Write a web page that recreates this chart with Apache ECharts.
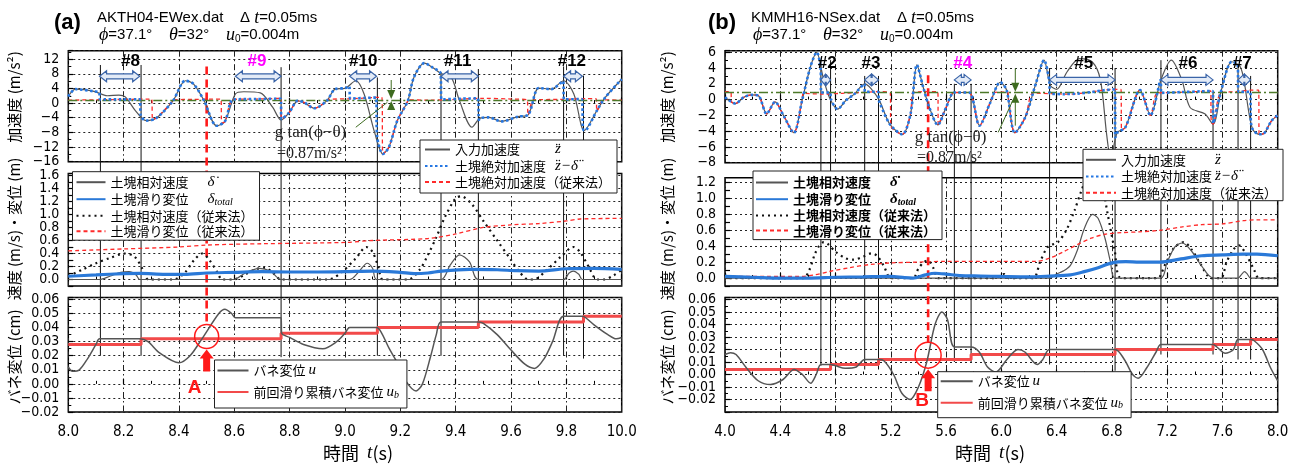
<!DOCTYPE html>
<html lang="ja">
<head>
<meta charset="utf-8"/>
<title>滑動時刻歴</title>
<script src="https://cdn.jsdelivr.net/npm/echarts@6/dist/echarts.min.js"></script>
<style>
  html, body { margin: 0; padding: 0; background: #fff; }
  #wrap { position: relative; width: 1303px; height: 465px; }
  #chartA { position: absolute; left: 0; top: 0; width: 651px; height: 465px; }
  #chartB { position: absolute; left: 651px; top: 0; width: 652px; height: 465px; }
</style>
</head>
<body>
<div id="wrap"><div id="chartA"></div><div id="chartB"></div></div>
<script>
// ---- (a) AKTH04-EWex.dat  8-10 s ----
const accInA = [[8.000,1.8],[8.026,3.8],[8.093,3.2],[8.141,2.0],[8.183,2.2],[8.206,1.7],[8.243,-2.1],[8.281,-4.8],[8.318,-4.1],[8.378,0.6],[8.423,6.1],[8.453,5.2],[8.491,0.6],[8.536,-6.2],[8.566,-5.0],[8.604,2.5],[8.634,3.1],[8.694,2.8],[8.739,-1.2],[8.769,-4.6],[8.799,-2.5],[8.829,0.6],[8.851,0.2],[8.889,-1.4],[8.934,0.6],[8.964,3.8],[9.002,4.1],[9.039,6.1],[9.069,2.5],[9.107,-8.0],[9.137,-13.9],[9.159,-12.0],[9.189,-4.8],[9.227,0.6],[9.249,7.0],[9.287,10.9],[9.317,9.7],[9.347,8.1],[9.384,7.0],[9.414,0.6],[9.459,-6.6],[9.489,-4.1],[9.520,-3.9],[9.565,-5.0],[9.625,-3.7],[9.662,-3.2],[9.700,4.1],[9.745,3.8],[9.790,6.1],[9.827,2.5],[9.865,-7.5],[9.910,-2.1],[9.940,1.5],[10.000,6.5]];
// sliding windows where the block acceleration stays near g tan(phi-theta)
const accNewWinA = [
  [[8.111,2.9],[8.115,1.0],[8.19,1.0],[8.258,1.0],[8.262,-3.4]],
  [[8.597,1.0],[8.68,1.1],[8.767,1.2],[8.771,-4.4]],
  [[9.015,4.6],[9.019,1.2],[9.07,1.4],[9.112,1.5],[9.116,-9.0]],
  [[9.345,8.2],[9.349,1.0],[9.42,1.2],[9.480,1.3],[9.484,-4.6]],
  [[9.788,6.0],[9.792,1.0],[9.856,1.1],[9.860,-7.0]]
];
const accOldWinA = [
  [[8.000,0.8],[8.10,0.9],[8.20,1.0],[8.301,1.1],[8.305,-4.4]],
  [[8.380,0.9],[8.45,1.0],[8.551,1.1],[8.555,-5.4]],
  [[8.597,1.0],[8.68,1.1],[8.767,1.3],[8.771,-4.4]],
  [[8.940,1.0],[9.03,1.2],[9.10,1.5],[9.133,1.6],[9.137,-13.9]],
  [[9.229,0.9],[9.30,0.8],[9.40,1.0],[9.50,1.3],[9.60,1.1],[9.658,0.9],[9.662,-3.2]],
  [[9.683,0.9],[9.78,1.0],[9.87,1.2],[9.907,1.2],[9.911,-2.1]],
  [[9.934,0.9],[10.0,0.8]]
];
const velNewA = [[8.0,0],[8.113,0],[8.15,0.05],[8.19,0.11],[8.22,0.12],[8.245,0.07],[8.258,0],[8.597,0],[8.64,0.1],[8.69,0.17],[8.73,0.13],[8.769,0],[9.017,0],[9.05,0.12],[9.08,0.25],[9.10,0.17],[9.114,0],[9.347,0],[9.38,0.22],[9.414,0.38],[9.45,0.27],[9.482,0],[9.790,0],[9.81,0.1],[9.825,0.13],[9.845,0.08],[9.858,0],[10.0,0]];
const velOldA = [[8.0,0.05],[8.05,0.15],[8.10,0.25],[8.15,0.33],[8.206,0.40],[8.24,0.35],[8.27,0.15],[8.29,0],[8.38,0],[8.42,0.1],[8.455,0.3],[8.484,0.40],[8.51,0.3],[8.54,0.1],[8.556,0],[8.597,0],[8.64,0.08],[8.68,0.16],[8.71,0.18],[8.74,0.1],[8.769,0],[8.94,0],[8.99,0.12],[9.04,0.33],[9.077,0.5],[9.10,0.42],[9.12,0.2],[9.137,0],[9.229,0],[9.27,0.15],[9.30,0.38],[9.33,0.65],[9.36,0.95],[9.40,1.25],[9.42,1.28],[9.46,1.15],[9.50,0.9],[9.55,0.6],[9.60,0.3],[9.63,0.12],[9.662,0],[9.683,0],[9.73,0.15],[9.78,0.35],[9.825,0.5],[9.85,0.42],[9.88,0.2],[9.911,0],[9.934,0],[9.97,0.06],[10.0,0.15]];
const slipNewA = [[8.0,0.05],[8.1,0.07],[8.2,0.09],[8.26,0.095],[8.35,0.08],[8.42,0.08],[8.5,0.1],[8.6,0.11],[8.7,0.12],[8.8,0.115],[8.9,0.115],[9.0,0.12],[9.1,0.13],[9.2,0.11],[9.25,0.09],[9.3,0.1],[9.35,0.13],[9.45,0.155],[9.55,0.15],[9.62,0.135],[9.7,0.13],[9.8,0.165],[9.9,0.17],[10.0,0.155]];
const slipOldA = [[8.0,0.44],[8.2,0.47],[8.4,0.5],[8.5,0.53],[8.7,0.55],[9.0,0.57],[9.1,0.6],[9.3,0.63],[9.4,0.7],[9.5,0.8],[9.6,0.84],[9.7,0.86],[9.8,0.9],[9.85,0.93],[10.0,0.94]];
const springA = [[8.0,0.012],[8.015,0.009],[8.04,0.01],[8.07,0.018],[8.10,0.028],[8.113,0.032],[8.258,0.032],[8.288,0.03],[8.33,0.022],[8.40,0.015],[8.44,0.02],[8.483,0.032],[8.544,0.05],[8.566,0.053],[8.59,0.05],[8.604,0.047],[8.769,0.047],[8.771,0.036],[8.80,0.033],[8.85,0.028],[8.92,0.025],[8.97,0.03],[9.0,0.036],[9.017,0.04],[9.114,0.04],[9.13,0.037],[9.16,0.025],[9.189,0.015],[9.22,0.002],[9.257,-0.005],[9.28,0.0],[9.31,0.02],[9.33,0.035],[9.347,0.044],[9.482,0.044],[9.50,0.043],[9.55,0.035],[9.60,0.024],[9.65,0.014],[9.685,0.011],[9.72,0.018],[9.75,0.03],[9.79,0.048],[9.858,0.048],[9.87,0.047],[9.90,0.042],[9.95,0.035],[9.98,0.032],[10.0,0.033]];
const ubA = [[8.0,0.028],[8.263,0.032],[8.769,0.036],[9.117,0.040],[9.482,0.044],[9.862,0.048],[10.0,0.048]];
const slideLinesA = [8.116, 8.263, 8.769, 9.117, 9.347, 9.482, 9.790, 9.862];
const slideTopA = [10.4, 10.4, 9.8, 7, 8.5, 9.3, 10, 7.5];
const slideBotA = [0.02, 0.02, 0.019, 0.02, 0.02, 0.04, 0.02, 0.018];
const slideSpanA = [[8.113,8.258],[8.604,8.769],[9.017,9.114],[9.347,9.482],[9.790,9.858]];
const slideTagsA = ['#8', '#9', '#10', '#11', '#12'];
const slideTagTA = [8.225, 8.682, 9.066, 9.407, 9.820];

// ---- (b) KMMH16-NSex.dat  4-8 s ----
const accInB = [[4.000,0.3],[4.075,-0.5],[4.136,0.3],[4.196,0.6],[4.242,0.5],[4.302,-1.8],[4.362,-0.3],[4.423,-2.0],[4.498,-4.2],[4.558,-0.1],[4.619,4.2],[4.664,6.0],[4.709,2.9],[4.755,0.3],[4.815,-1.2],[4.875,-0.1],[4.936,0.7],[5.011,2.0],[5.057,1.4],[5.117,-0.1],[5.192,-3.1],[5.283,-4.4],[5.343,-1.8],[5.389,4.4],[5.434,1.6],[5.479,-1.0],[5.540,-3.2],[5.600,-1.0],[5.660,0.9],[5.766,0.9],[5.842,-3.3],[5.917,-0.5],[5.992,2.2],[6.038,1.2],[6.098,-4.2],[6.174,-2.2],[6.249,2.0],[6.309,5.0],[6.355,1.8],[6.400,1.3],[6.475,3.5],[6.566,5.2],[6.657,4.8],[6.717,2.5],[6.762,-4.4],[6.792,-7.5],[6.838,-4.2],[6.898,-3.5],[7.004,1.2],[7.079,-2.0],[7.155,2.5],[7.230,5.0],[7.306,2.5],[7.366,-1.0],[7.472,-1.8],[7.532,-3.1],[7.592,1.2],[7.668,4.8],[7.728,4.2],[7.760,2.0],[7.790,-1.5],[7.820,-3.8],[7.865,-4.4],[7.900,-4.3],[7.955,-2.7],[8.000,-2.0]];
const accNewWinB = [
  [[4.692,3.9],[4.696,0.9],[4.762,0.9],[4.766,0.1]],
  [[5.009,2.0],[5.013,1.0],[5.109,1.0],[5.113,-0.1]],
  [[6.347,2.3],[6.351,0.75],[6.45,0.7],[6.55,0.75],[6.65,0.95],[6.75,1.2],[6.821,1.3],[6.825,-4.8]],
  [[7.153,2.5],[7.157,0.85],[7.30,0.95],[7.45,1.05],[7.530,1.1],[7.534,-3.0]],
  [[7.711,4.4],[7.715,1.0],[7.802,1.0],[7.806,-2.8]]
];
const accOldWinB = [
  [[4.000,1.0],[4.043,0.95],[4.047,-0.3]],
  [[4.567,0.8],[4.70,0.7],[4.85,0.8],[5.00,0.9],[5.10,1.0],[5.196,0.9],[5.200,-3.3]],
  [[5.360,0.9],[5.45,1.0],[5.540,1.0],[5.544,-3.2]],
  [[5.955,0.9],[6.0,0.95],[6.048,0.95],[6.052,0.0]],
  [[6.230,0.85],[6.35,0.75],[6.50,0.7],[6.60,0.85],[6.70,1.1],[6.80,1.3],[6.866,1.3],[6.870,-3.9]],
  [[7.130,0.85],[7.25,0.9],[7.40,1.0],[7.515,1.1],[7.519,-2.8]],
  [[7.589,0.85],[7.70,1.0],[7.80,1.2],[7.862,1.2],[7.866,-4.4]]
];
const velNewB = [[4.0,0],[6.349,0],[6.40,0.05],[6.45,0.09],[6.50,0.16],[6.55,0.35],[6.60,0.62],[6.66,0.8],[6.70,0.75],[6.75,0.5],[6.79,0.2],[6.823,0],[7.155,0],[7.20,0.2],[7.26,0.4],[7.31,0.44],[7.38,0.33],[7.45,0.15],[7.532,0],[7.713,0],[7.74,0.05],[7.76,0.08],[7.78,0.05],[7.804,0],[8.0,0]];
const velOldB = [[4.0,0.04],[4.03,0],[4.567,0],[4.61,0.1],[4.65,0.3],[4.68,0.4],[4.715,0.45],[4.75,0.42],[4.80,0.33],[4.87,0.25],[4.93,0.23],[5.0,0.27],[5.06,0.31],[5.10,0.28],[5.15,0.15],[5.20,0],[5.36,0],[5.40,0.12],[5.44,0.2],[5.47,0.22],[5.51,0.12],[5.544,0],[5.955,0],[5.99,0.03],[6.02,0.05],[6.052,0],[6.23,0],[6.28,0.2],[6.33,0.38],[6.37,0.42],[6.41,0.45],[6.47,0.6],[6.53,0.85],[6.58,1.1],[6.63,1.3],[6.68,1.35],[6.73,1.15],[6.77,0.8],[6.82,0.35],[6.868,0],[7.13,0],[7.18,0.15],[7.25,0.38],[7.32,0.45],[7.38,0.35],[7.44,0.18],[7.517,0],[7.589,0],[7.63,0.2],[7.68,0.36],[7.72,0.41],[7.77,0.3],[7.83,0.1],[7.864,0],[8.0,0]];
const slipNewB = [[4.0,0.02],[4.2,0.01],[4.4,0.0],[4.6,0.0],[4.8,0.01],[5.0,0.015],[5.2,0.02],[5.3,0.005],[5.36,0.0],[5.45,0.04],[5.52,0.06],[5.6,0.05],[5.7,0.03],[5.85,0.025],[6.0,0.02],[6.2,0.015],[6.35,0.025],[6.5,0.04],[6.6,0.08],[6.7,0.13],[6.8,0.19],[6.9,0.205],[7.0,0.2],[7.15,0.2],[7.3,0.24],[7.45,0.28],[7.6,0.29],[7.75,0.3],[7.85,0.3],[8.0,0.28]];
const slipOldB = [[4.0,0.02],[4.3,0.02],[4.55,0.02],[4.65,0.04],[4.75,0.08],[4.9,0.13],[5.05,0.17],[5.2,0.19],[5.4,0.2],[5.6,0.21],[6.0,0.21],[6.25,0.21],[6.35,0.25],[6.45,0.33],[6.55,0.42],[6.65,0.5],[6.75,0.55],[6.87,0.57],[7.0,0.58],[7.15,0.6],[7.3,0.64],[7.45,0.67],[7.6,0.68],[7.75,0.72],[7.85,0.73],[8.0,0.73]];
const springB = [[4.0,0.016],[4.04,0.0175],[4.08,0.016],[4.15,0.006],[4.24,-0.005],[4.33,-0.008],[4.42,-0.004],[4.50,0.004],[4.56,0.0],[4.62,-0.007],[4.66,0.0],[4.694,0.008],[4.764,0.008],[4.80,0.007],[4.87,0.005],[4.95,0.006],[5.011,0.012],[5.111,0.012],[5.15,0.011],[5.22,0.0],[5.28,-0.015],[5.34,-0.02],[5.40,-0.01],[5.46,0.01],[5.52,0.04],[5.57,0.05],[5.61,0.044],[5.66,0.022],[5.781,0.022],[5.84,0.018],[5.90,0.006],[5.96,0.002],[6.04,0.012],[6.12,0.02],[6.17,0.018],[6.26,0.008],[6.30,0.012],[6.349,0.02],[6.823,0.02],[6.89,0.012],[6.95,0.0],[6.99,-0.003],[7.05,0.005],[7.12,0.018],[7.155,0.024],[7.532,0.024],[7.56,0.022],[7.62,0.017],[7.68,0.02],[7.713,0.028],[7.804,0.028],[7.83,0.027],[7.89,0.02],[7.95,0.005],[8.0,-0.005]];
const ubB = [[4.0,0.004],[4.764,0.008],[5.111,0.012],[5.781,0.016],[6.823,0.020],[7.532,0.024],[7.804,0.028],[8.0,0.028]];
const slideLinesB = [4.694, 4.764, 5.011, 5.111, 5.660, 5.781, 6.349, 6.823, 7.155, 7.532, 7.713, 7.804];
const slideTopB = [5, 5, 3, 3, 2, 2, 4, 4, 5, 1, 4, 3];
const slideBotB = [0.007, 0.007, 0.004, 0.004, 0.01, 0.01, 0.008, 0.003, 0.016, 0.016, 0.012, 0.012];
const slideSpanB = [[4.694,4.764],[5.011,5.111],[5.660,5.781],[6.349,6.823],[7.155,7.532],[7.713,7.804]];
const slideTagsB = ['#2', '#3', '#4', '#5', '#6', '#7'];
const slideTagTB = [4.74, 5.057, 5.72, 6.596, 7.351, 7.743];

const gTanPhiTheta = 0.87;

const NUM = "'Liberation Sans Narrow','DejaVu Sans Condensed',Roboto,sans-serif";
const SANS = "'Liberation Sans','DejaVu Sans',sans-serif";
const JP = "'Noto Sans CJK JP',sans-serif";
const SERIF = "'Liberation Serif','DejaVu Serif',serif";

function mergeWin(base, wins) {
  let pts = base.filter(p => !wins.some(w => p[0] >= w[0][0] && p[0] <= w[w.length - 1][0]));
  wins.forEach(w => { pts = pts.concat(w); });
  return pts.sort((a, b) => a[0] - b[0]);
}

function ln(name, data, gi, color, width, type, z, extra) {
  return Object.assign({
    name: name, type: 'line', xAxisIndex: gi, yAxisIndex: gi, data: data,
    symbol: 'none', smooth: 0.3, silent: true, z: z,
    lineStyle: {color: color, width: width, type: type},
    itemStyle: {color: color},
    emphasis: {disabled: true}
  }, extra || {});
}

const legendText = {
  '入力加速度': '{n|入力加速度}{s|z\u0308}',
  '土塊絶対加速度': '{n|土塊絶対加速度}{s|z\u0308\u2212\u03b4\u0308}',
  '土塊絶対加速度（従来法）': '{m|土塊絶対加速度（従来法）}',
  '土塊相対速度': '{n|土塊相対速度}{s|\u03b4\u0307}',
  '土塊滑り変位': '{n|土塊滑り変位}{s|\u03b4}{sub|total}',
  '土塊相対速度（従来法）': '{m|土塊相対速度（従来法）}',
  '土塊滑り変位（従来法）': '{m|土塊滑り変位（従来法）}',
  'バネ変位': '{m|バネ変位 }{s|u}',
  '前回滑り累積バネ変位': '{m|前回滑り累積バネ変位 }{s|u}{sub|b}'
};

function legend(names, left, top, pad, iw, gap, nw, bold, fs) {
  const w = bold ? 'bold' : 'normal';
  return {
    data: names, left: left, top: top, orient: 'vertical', padding: pad,
    itemWidth: iw, itemHeight: 10, itemGap: gap, selectedMode: false,
    backgroundColor: '#fff', borderColor: '#222', borderWidth: 1, z: 10,
    itemStyle: {opacity: 0},
    formatter: n => legendText[n],
    textStyle: {
      fontFamily: JP, fontSize: fs, color: '#000', fontWeight: w, lineHeight: 14,
      rich: {
        n: {width: nw, fontFamily: JP, fontSize: fs, fontWeight: w, lineHeight: 14},
        m: {fontFamily: JP, fontSize: fs, fontWeight: w, lineHeight: 14},
        s: {fontFamily: SERIF, fontStyle: 'italic', fontSize: 15, lineHeight: 14},
        sub: {fontFamily: SERIF, fontStyle: 'italic', fontSize: 10, lineHeight: 14, padding: [6, 0, 0, 0]}
      }
    }
  };
}

function build(c) {
  const fmt = [
    v => String(Math.round(v)).replace('-', '\u2212'),
    v => (Math.round(v * 10) % 2 === 0 ? v.toFixed(1) : ''),
    v => v.toFixed(2).replace('-', '\u2212')
  ];
  return {
    animation: false,
    grid: c.grids.map(g => ({left: g[0], top: g[1], width: g[2], height: g[3], show: true,
      borderColor: '#000', borderWidth: 1.5, backgroundColor: 'transparent', outerBoundsMode: 'none'})),
    xAxis: [0, 1, 2].map(i => ({
      type: 'value', gridIndex: i, min: c.x[0], max: c.x[1], interval: c.x[2],
      axisLine: {show: false},
      axisTick: {show: true, inside: true, length: 5, lineStyle: {color: '#000', width: 1.2}},
      minorTick: {show: true, splitNumber: 2, length: 3, lineStyle: {color: '#000'}},
      axisLabel: {show: i === 2, color: '#000', fontFamily: NUM, fontSize: 15, margin: 13,
        formatter: v => v.toFixed(1)},
      splitLine: {show: true, lineStyle: {color: '#222', type: [6, 3, 1.5, 3], width: 1}}
    })),
    yAxis: c.y.map((r, i) => ({
      type: 'value', gridIndex: i, min: r[0], max: r[1], interval: r[2],
      axisLine: {show: false},
      axisTick: {show: true, inside: true, length: 5, lineStyle: {color: '#000', width: 1.2}},
      minorTick: {show: i !== 1, splitNumber: 2, length: 3, lineStyle: {color: '#000'}},
      axisLabel: {color: '#000', fontFamily: NUM, fontSize: 14, margin: 9, showMaxLabel: false, formatter: fmt[i]},
      splitLine: {show: true, lineStyle: {color: i === 1 ? ['rgba(0,0,0,0)', '#222'] : '#222', type: [2, 3], width: 1}}
    })),
    legend: c.legends,
    series: [
      ln('入力加速度', c.accIn, 0, '#555', 1.2, 'solid', 3, {markLine: {
        silent: true, symbol: 'none', label: {show: false},
        lineStyle: {color: '#4d7a2a', type: [9, 3, 2, 3], width: 1.3},
        data: [{yAxis: gTanPhiTheta}]}}),
      ln('土塊絶対加速度（従来法）', mergeWin(c.accIn, c.oldWin), 0, '#ff2a2a', 1.3, [4, 3], 4),
      ln('土塊絶対加速度', mergeWin(c.accIn, c.newWin), 0, '#2577e3', 2.6, [2.5, 2.5], 5),
      ln('土塊相対速度（従来法）', c.velOld, 1, '#111', 2.2, [2, 4], 3),
      ln('土塊相対速度', c.velNew, 1, '#555', 1.2, 'solid', 4),
      ln('土塊滑り変位（従来法）', c.slipOld, 1, '#ff2a2a', 1.3, [4, 3], 4),
      ln('土塊滑り変位', c.slipNew, 1, '#2a79d8', 3.2, 'solid', 5),
      ln('前回滑り累積バネ変位', c.ub, 2, '#f24a4a', 3, 'solid', 3, {smooth: false, step: 'end'}),
      ln('バネ変位', c.spring, 2, '#555', 1.5, 'solid', 4)
    ]
  };
}

function txt(x, y, text, style, z, rot) {
  return {type: 'text', x: x, y: y, silent: true, z: z || 20, rotation: rot || 0,
    style: Object.assign({text: text, fill: '#000', textAlign: 'left', textVerticalAlign: 'middle'}, style)};
}

function decorate(chart, c) {
  const P = (g, pt) => chart.convertToPixel({gridIndex: g}, pt);
  const els = [];
  const richHead = {
    i: {fontFamily: SERIF, fontStyle: 'italic', fontSize: 18},
    sub: {fontFamily: SANS, fontSize: 10, padding: [8, 0, 0, 0]}
  };
  els.push(txt(c.head[0], 23, c.panel, {font: 'bold 22px ' + SANS}));
  els.push(txt(c.head[1], 18, c.title1, {fontFamily: SANS, fontSize: 15, rich: richHead}));
  els.push(txt(c.head[1] + 2, 35, c.title2, {fontFamily: SANS, fontSize: 15, rich: richHead}));
  // y titles
  const yt = [['加速度 (m/s²)', 97], ['速度 (m/s)・変位 (m)', 229], ['バネ変位 (cm)', 357]];
  yt.forEach(t => els.push(txt(c.yTitleX, t[1], t[0],
    {fontFamily: JP, fontSize: 15, textAlign: 'center'}, 20, Math.PI / 2)));
  els.push(txt(c.xTitleX, 453, '時間  {i|t}(s)',
    {fontFamily: JP, fontSize: 18, textAlign: 'center',
     rich: {i: {fontFamily: SERIF, fontStyle: 'italic', fontSize: 19}}}));
  // slide start / end lines through all three panels
  c.lines.forEach((t, k) => {
    const a = P(0, [t, c.lineTop[k]]), b = P(2, [t, c.lineBot[k]]);
    els.push({type: 'line', silent: true, z: 3, shape: {x1: a[0], y1: a[1], x2: b[0], y2: b[1]},
      style: {stroke: '#111', lineWidth: 1}});
  });
  // hollow double arrows and slide numbers
  c.spans.forEach((s, k) => {
    const a = P(0, [s[0], c.arrowLevel]), b = P(0, [s[1], c.arrowLevel]);
    const x0 = a[0], x1 = b[0], y = a[1];
    const h = Math.min(7, (x1 - x0) / 2 - 0.5);
    els.push({type: 'polygon', silent: true, z: 6, shape: {points: [
      [x0, y], [x0 + h, y - 5.5], [x0 + h, y - 2.5], [x1 - h, y - 2.5], [x1 - h, y - 5.5],
      [x1, y], [x1 - h, y + 5.5], [x1 - h, y + 2.5], [x0 + h, y + 2.5], [x0 + h, y + 5.5]]},
      style: {fill: '#e3ebf7', stroke: '#3a64a8', lineWidth: 1.2}});
    const p = P(0, [c.tagT[k], c.tagLevel]);
    els.push(txt(p[0], p[1], c.tags[k], {font: 'bold 17px ' + SANS, textAlign: 'center',
      fill: k === c.magenta ? '#ff00ff' : '#000'}, 21));
  });
  // red marker line, circle, arrow and letter
  const m = c.marker;
  const top = P(0, [m.t, m.top]), cen = P(2, [m.t, m.v]);
  els.push({type: 'line', silent: true, z: 3, shape: {x1: top[0], y1: top[1], x2: cen[0], y2: cen[1] - m.r},
    style: {stroke: '#ff1a1a', lineWidth: 2.6, lineDash: [8, 5]}});
  els.push({type: 'circle', silent: true, z: 22, shape: {cx: cen[0], cy: cen[1], r: m.r},
    style: {stroke: '#ff1a1a', fill: 'none', lineWidth: 1.5}});
  const ty = cen[1] + m.r + 1, by = ty + 22, cx = cen[0];
  els.push({type: 'polygon', silent: true, z: 22, shape: {points: [
    [cx, ty], [cx + 7, ty + 9], [cx + 3.5, ty + 9], [cx + 3.5, by], [cx - 3.5, by], [cx - 3.5, ty + 9], [cx - 7, ty + 9]]},
    style: {fill: '#ff1a1a'}});
  els.push(txt(cx + m.dx, by + m.dy, m.label, {font: 'bold 19px ' + SANS, fill: '#ff1a1a', textAlign: 'center'}, 22));
  // g tan(phi - theta) arrows
  const g = c.gnote;
  const gy = P(0, [g.t, gTanPhiTheta]), gt = P(0, [g.t, g.up]), gb = P(0, [g.t, g.down]);
  const gx = gy[0], green = '#3d6b1f';
  els.push({type: 'line', silent: true, z: 21, shape: {x1: gx, y1: gt[1], x2: gx, y2: gy[1] - 9}, style: {stroke: green, lineWidth: 1}});
  els.push({type: 'polygon', silent: true, z: 21, shape: {points: [[gx, gy[1] - 1], [gx - 4, gy[1] - 10], [gx + 4, gy[1] - 10]]}, style: {fill: green}});
  els.push({type: 'line', silent: true, z: 21, shape: {x1: gx, y1: gb[1], x2: gx, y2: gy[1] + 9}, style: {stroke: green, lineWidth: 1}});
  els.push({type: 'polygon', silent: true, z: 21, shape: {points: [[gx, gy[1] + 1], [gx - 4, gy[1] + 10], [gx + 4, gy[1] + 10]]}, style: {fill: green}});
  const l0 = P(0, g.lead[0]), l1 = P(0, g.lead[1]);
  els.push({type: 'line', silent: true, z: 21, shape: {x1: l0[0], y1: l0[1], x2: l1[0], y2: l1[1]}, style: {stroke: green, lineWidth: 1}});
  const t1 = P(0, g.text1), t2 = P(0, g.text2);
  els.push(txt(t1[0], t1[1], 'g tan(\u03d5\u2212\u03b8)', {fontFamily: SERIF, fontSize: 17, fill: '#222'}, 21));
  els.push(txt(t2[0], t2[1], '=0.87m/s²', {fontFamily: SERIF, fontSize: 16, fill: '#222'}, 21));
  chart.setOption({graphic: els});
}

const cfgA = {
  grids: [[68.3, 50.7, 553.4, 111], [68.3, 173.5, 553.4, 112.5], [68.3, 297.5, 553.4, 114.5]],
  x: [8, 10, 0.2],
  y: [[-16, 14.3, 4], [-0.1, 1.63, 0.1], [-0.02, 0.0614, 0.01]],
  accIn: accInA, newWin: accNewWinA, oldWin: accOldWinA,
  velNew: velNewA, velOld: velOldA, slipNew: slipNewA, slipOld: slipOldA, spring: springA, ub: ubA,
  legends: [
    legend(['入力加速度', '土塊絶対加速度', '土塊絶対加速度（従来法）'], 420, 140, [2, 6, 4, 4], 25, 1.5, 100, false, 13),
    legend(['土塊相対速度', '土塊滑り変位', '土塊相対速度（従来法）', '土塊滑り変位（従来法）'], 72.5, 171.7, [3, 6, 2, 3], 29, 1.5, 97, false, 13),
    legend(['バネ変位', '前回滑り累積バネ変位'], 214.5, 360, [3, 8, 8, 2], 31, 6, 0, false, 13)
  ]
};
const decoA = {
  panel: '(a)', head: [54, 97],
  title1: 'AKTH04-EWex.dat    \u0394 {i|t}=0.05ms',
  title2: '{i|\u03d5}=37.1°    {i|\u03b8}=32°    {i|u}{sub|0}=0.004m',
  yTitleX: 14, xTitleX: 358,
  lines: slideLinesA, lineTop: slideTopA, lineBot: slideBotA,
  spans: slideSpanA, tags: slideTagsA, tagT: slideTagTA, magenta: 1, arrowLevel: 7.3, tagLevel: 11.3,
  marker: {t: 8.5, top: 10, v: 0.0337, r: 12, label: 'A', dx: -12, dy: 16},
  gnote: {t: 9.167, up: 6.3, down: -1.9, lead: [[9.039, -6.6], [9.153, 0.2]], text1: [8.746, -8.0], text2: [8.754, -13.9]}
};

const cfgB = {
  grids: [[74, 50.7, 552.7, 112], [74, 177.7, 552.7, 108.3], [74, 297.5, 552.7, 114.5]],
  x: [4, 8, 0.4],
  y: [[-8, 6.2, 2], [-0.1, 1.26, 0.1], [-0.03, 0.0616, 0.01]],
  accIn: accInB, newWin: accNewWinB, oldWin: accOldWinB,
  velNew: velNewB, velOld: velOldB, slipNew: slipNewB, slipOld: slipOldB, spring: springB, ub: ubB,
  legends: [
    legend(['入力加速度', '土塊絶対加速度', '土塊絶対加速度（従来法）'], 432, 149.3, [3, 6, 1, 2], 30, 1.7, 94, false, 13),
    legend(['土塊相対速度', '土塊滑り変位', '土塊相対速度（従来法）', '土塊滑り変位（従来法）'], 102, 171, [4, 6, 2, 2], 32, 1.2, 97, true, 13),
    legend(['バネ変位', '前回滑り累積バネ変位'], 286.7, 371.7, [2, 8, 7, 2], 32, 6, 0, false, 13)
  ]
};
const decoB = {
  panel: '(b)', head: [57, 100],
  title1: 'KMMH16-NSex.dat    \u0394 {i|t}=0.05ms',
  title2: '{i|\u03d5}=37.1°    {i|\u03b8}=32°    {i|u}{sub|0}=0.004m',
  yTitleX: 16, xTitleX: 339,
  lines: slideLinesB, lineTop: slideTopB, lineBot: slideBotB,
  spans: slideSpanB, tags: slideTagsB, tagT: slideTagTB, magenta: 2, arrowLevel: 2.5, tagLevel: 4.6,
  marker: {t: 5.47, top: 3.1, v: 0.0155, r: 13, label: 'B', dx: -6, dy: 10},
  gnote: {t: 6.101, up: 3.95, down: -3.3, lead: [[5.977, -4.15], [6.083, -0.1]], text1: [5.374, -4.8], text2: [5.389, -7.36]}
};

const chartA = echarts.init(document.getElementById('chartA'));
chartA.setOption(build(cfgA));
decorate(chartA, decoA);
const chartB = echarts.init(document.getElementById('chartB'));
chartB.setOption(build(cfgB));
decorate(chartB, decoB);
</script>
</body>
</html>
